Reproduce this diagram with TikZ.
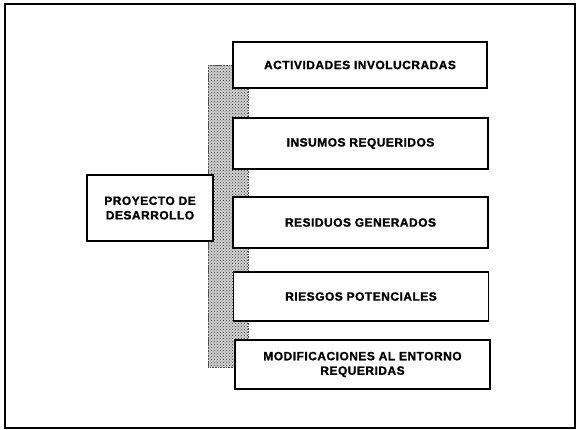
\documentclass[tikz,border=0pt]{standalone}
\usepackage{fontspec}
\newfontfamily\lblfont{Liberation Sans}[LetterSpace=4, FakeBold=1.2]
\usetikzlibrary{patterns}
\tikzset{
  frame/.style={draw=black, line width=1.6pt},
  itembox/.style={draw=black, line width=1.1pt, fill=white, align=center,
     font=\lblfont\bfseries\fontsize{12}{14.5}\selectfont, inner sep=0pt},
  barfill/.style={fill=gray!35},
  barpat/.style={pattern=crosshatch dots, pattern color=black!80},
}
\begin{document}
\begin{tikzpicture}[x=1pt,y=-1pt]
\useasboundingbox (0,0) rectangle (577,430);
\draw[frame] (5,4) rectangle (575,428);
% shaded bar behind boxes
\fill[barfill] (208,65) rectangle (248,367);
\fill[barpat] (208,65) rectangle (248,367);
\draw[black!70, line width=0.6pt, densely dotted] (208,65) rectangle (248,367);
% boxes
\node[itembox, minimum width=254pt, minimum height=46pt] (b1) at (360,65) {ACTIVIDADES INVOLUCRADAS};
\node[itembox, minimum width=255pt, minimum height=51pt] (b2) at (360.5,143.5) {INSUMOS REQUERIDOS};
\node[itembox, minimum width=255pt, minimum height=51pt] (b3) at (360.5,222.5) {RESIDUOS GENERADOS};
\node[itembox, minimum width=255pt, minimum height=49pt] (b4) at (361,296.5) {RIESGOS POTENCIALES};
\node[itembox, minimum width=255pt, minimum height=49pt] (b5) at (362.5,364.5) {MODIFICACIONES AL ENTORNO\\REQUERIDAS};
\node[itembox, minimum width=126pt, minimum height=66pt] (c) at (150,208) {PROYECTO DE\\DESARROLLO};
\end{tikzpicture}
\end{document}
